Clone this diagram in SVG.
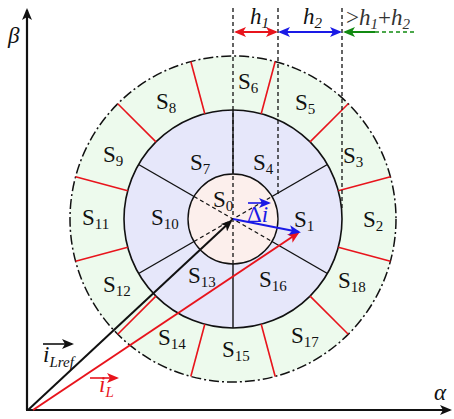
<svg xmlns="http://www.w3.org/2000/svg" width="454" height="419" viewBox="0 0 454 419">
<style>
.sub{font-size:15px}
.it{font-style:italic}
.dash{stroke:#111;stroke-width:1.3;stroke-dasharray:4 3;fill:none}
.sec{stroke:#111;stroke-width:1.4;fill:none}
.red{stroke:#e8141c;stroke-width:1.6;fill:none}
</style>
<defs>
<marker id="ak" markerWidth="12" markerHeight="10" refX="10" refY="5" orient="auto-start-reverse" markerUnits="userSpaceOnUse"><path d="M0,0 L12,5 L0,10 L3,5 z" fill="#111"/></marker>
<marker id="ar" markerWidth="12" markerHeight="10" refX="10" refY="5" orient="auto-start-reverse" markerUnits="userSpaceOnUse"><path d="M0,0 L12,5 L0,10 L3,5 z" fill="#e8141c"/></marker>
<marker id="ab" markerWidth="12" markerHeight="10" refX="10" refY="5" orient="auto-start-reverse" markerUnits="userSpaceOnUse"><path d="M0,0 L12,5 L0,10 L3,5 z" fill="#1a1ae6"/></marker>
<marker id="ag" markerWidth="12" markerHeight="10" refX="10" refY="5" orient="auto-start-reverse" markerUnits="userSpaceOnUse"><path d="M0,0 L12,5 L0,10 L3,5 z" fill="#118a11"/></marker>
</defs>

<g id="regions">
<circle id="outer-ring" cx="233" cy="219" r="163" fill="#edfaed" stroke="#111" stroke-width="1.5" stroke-dasharray="10 3 2 3"/>
<circle id="middle-ring" cx="233" cy="219" r="109" fill="#e6e7fa" stroke="#111" stroke-width="1.6"/>
<circle id="inner-circle" cx="233" cy="219" r="45" fill="#fcefec" stroke="#111" stroke-width="1.4"/>
</g>

<g id="connectors">
<g id="red-dividers">
<line class="red" x1="338.29" y1="190.79" x2="390.45" y2="176.81"/>
<line class="red" x1="310.07" y1="141.93" x2="348.26" y2="103.74"/>
<line class="red" x1="261.21" y1="113.71" x2="275.19" y2="61.55"/>
<line class="red" x1="204.79" y1="113.71" x2="190.81" y2="61.55"/>
<line class="red" x1="155.93" y1="141.93" x2="117.74" y2="103.74"/>
<line class="red" x1="127.71" y1="190.79" x2="75.55" y2="176.81"/>
<line class="red" x1="127.71" y1="247.21" x2="75.55" y2="261.19"/>
<line class="red" x1="155.93" y1="296.07" x2="117.74" y2="334.26"/>
<line class="red" x1="204.79" y1="324.29" x2="190.81" y2="376.45"/>
<line class="red" x1="261.21" y1="324.29" x2="275.19" y2="376.45"/>
<line class="red" x1="310.07" y1="296.07" x2="348.26" y2="334.26"/>
<line class="red" x1="338.29" y1="247.21" x2="390.45" y2="261.19"/>
</g>
<g id="sector-lines">
<line class="sec" x1="271.97" y1="196.5" x2="327.4" y2="164.5"/>
<line class="sec" x1="233" y1="174" x2="233" y2="110"/>
<line class="sec" x1="194.03" y1="196.5" x2="138.6" y2="164.5"/>
<line class="sec" x1="194.03" y1="241.5" x2="138.6" y2="273.5"/>
<line class="sec" x1="233" y1="264" x2="233" y2="328"/>
<line class="sec" x1="271.97" y1="241.5" x2="327.4" y2="273.5"/>
</g>
<g id="dashed-lines">
<line class="dash" x1="194.03" y1="241.5" x2="271.97" y2="196.5"/>
<line class="dash" x1="194.03" y1="196.5" x2="271.97" y2="241.5"/>
<line class="dash" x1="233" y1="8" x2="233" y2="264"/>
<line class="dash" x1="278" y1="8" x2="278" y2="197"/>
<line class="dash" x1="342" y1="8" x2="342" y2="210"/>
</g>
<g id="dimension-arrows">
<line x1="236" y1="32" x2="276" y2="32" stroke="#e8141c" stroke-width="2" marker-start="url(#ar)" marker-end="url(#ar)"/>
<line x1="280" y1="32" x2="340" y2="32" stroke="#1a1ae6" stroke-width="2" marker-start="url(#ab)" marker-end="url(#ab)"/>
<line x1="375" y1="32" x2="345" y2="32" stroke="#118a11" stroke-width="2" marker-end="url(#ag)"/>
<line x1="375" y1="32" x2="415" y2="32" stroke="#118a11" stroke-width="1.5" stroke-dasharray="4 3"/>
</g>
<g id="axes">
<line x1="27" y1="410" x2="27" y2="10" stroke="#111" stroke-width="2.2" marker-end="url(#ak)"/>
<line x1="26" y1="410" x2="450" y2="410" stroke="#111" stroke-width="2.2" marker-end="url(#ak)"/>
</g>
<g id="vectors">
<line x1="28" y1="410" x2="231" y2="221" stroke="#111" stroke-width="2" marker-end="url(#ak)"/>
<line x1="33" y1="410" x2="298" y2="233" stroke="#e8141c" stroke-width="2" marker-end="url(#ar)"/>
<line x1="233" y1="219" x2="299" y2="232" stroke="#1a1ae6" stroke-width="2.2" marker-end="url(#ab)"/>
<line x1="248" y1="203" x2="269" y2="203" stroke="#1a1ae6" stroke-width="1.6" marker-end="url(#ab)"/>
<line x1="43" y1="344" x2="72" y2="344" stroke="#111" stroke-width="1.6" marker-end="url(#ak)"/>
<line x1="90" y1="378" x2="117" y2="378" stroke="#e8141c" stroke-width="1.6" marker-end="url(#ar)"/>
</g>
</g>

<g id="sector-labels" font-family="Liberation Serif, Times New Roman, serif" font-size="23" fill="#111">
<text id="S0" x="213" y="207">S<tspan class="sub" dy="4">0</tspan></text>
<text id="S1" x="294" y="227">S<tspan class="sub" dy="4">1</tspan></text>
<text id="S2" x="363" y="227">S<tspan class="sub" dy="4">2</tspan></text>
<text id="S3" x="343" y="163">S<tspan class="sub" dy="4">3</tspan></text>
<text id="S4" x="253" y="170">S<tspan class="sub" dy="4">4</tspan></text>
<text id="S5" x="295" y="110">S<tspan class="sub" dy="4">5</tspan></text>
<text id="S6" x="238" y="89">S<tspan class="sub" dy="4">6</tspan></text>
<text id="S7" x="190" y="170">S<tspan class="sub" dy="4">7</tspan></text>
<text id="S8" x="156" y="109">S<tspan class="sub" dy="4">8</tspan></text>
<text id="S9" x="103" y="162">S<tspan class="sub" dy="4">9</tspan></text>
<text id="S10" x="151" y="225">S<tspan class="sub" dy="4">10</tspan></text>
<text id="S11" x="82" y="225">S<tspan class="sub" dy="4">11</tspan></text>
<text id="S12" x="103" y="292">S<tspan class="sub" dy="4">12</tspan></text>
<text id="S13" x="188" y="283">S<tspan class="sub" dy="4">13</tspan></text>
<text id="S14" x="158" y="345">S<tspan class="sub" dy="4">14</tspan></text>
<text id="S15" x="222" y="357">S<tspan class="sub" dy="4">15</tspan></text>
<text id="S16" x="259" y="287">S<tspan class="sub" dy="4">16</tspan></text>
<text id="S17" x="291" y="343">S<tspan class="sub" dy="4">17</tspan></text>
<text id="S18" x="338" y="288">S<tspan class="sub" dy="4">18</tspan></text>
</g>

<g id="other-labels" font-family="Liberation Serif, Times New Roman, serif" font-size="23" fill="#111">
<text id="h1" x="250" y="24" class="it">h<tspan class="sub" dy="4">1</tspan></text>
<text id="h2" x="303" y="24" class="it">h<tspan class="sub" dy="4">2</tspan></text>
<text id="h1h2" x="346" y="25" fill="#333">&gt;<tspan class="it">h</tspan><tspan class="sub it" dy="4">1</tspan><tspan dy="-4">+</tspan><tspan class="it">h</tspan><tspan class="sub it" dy="4">2</tspan></text>
<text id="delta-i" x="247" y="222" fill="#1a1ae6">Δ<tspan class="it">i</tspan></text>
<text id="iLref" x="43" y="362" class="it">i<tspan class="sub" dy="5">Lref</tspan></text>
<text id="iL" x="99" y="392" class="it" fill="#e8141c">i<tspan class="sub" dy="5">L</tspan></text>
<text id="beta" x="8" y="43" class="it">β</text>
<text id="alpha" x="434" y="400" class="it">α</text>
</g>
</svg>
